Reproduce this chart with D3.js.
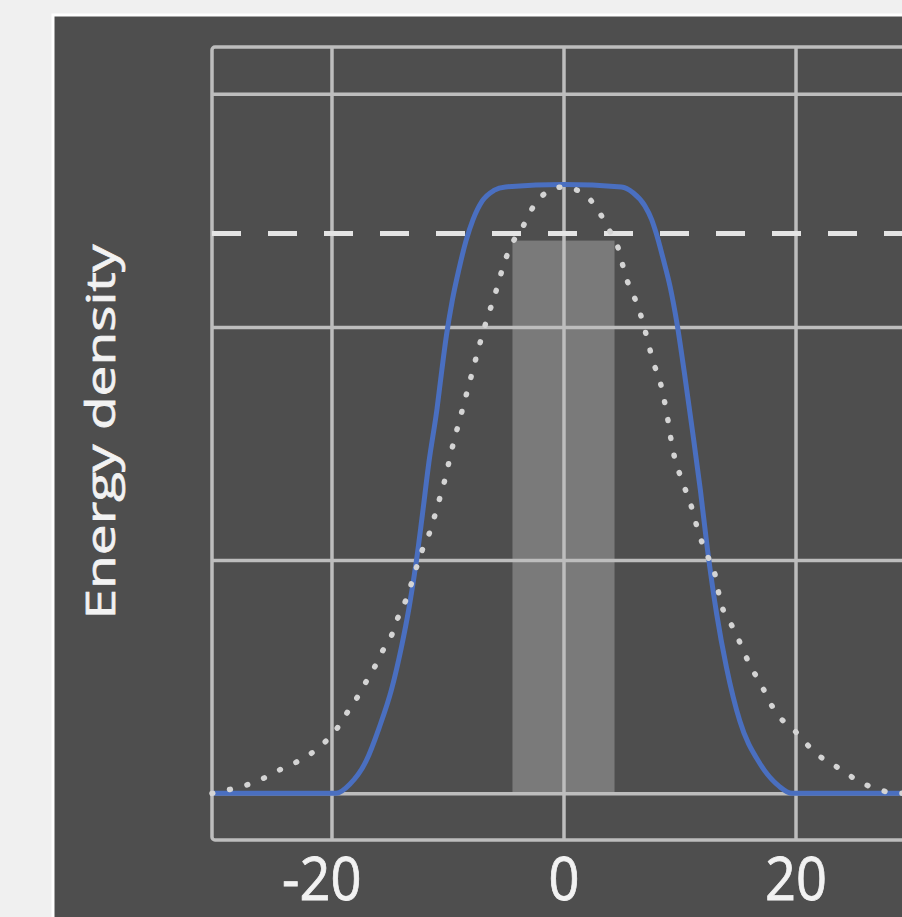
<!DOCTYPE html>
<html>
<head>
<meta charset="utf-8">
<script src="https://cdn.jsdelivr.net/npm/d3@7"></script>
<style>
    body { margin: 0; background: #f0f0f0; }
    svg { display: block; }
</style>
</head>
<body>
<div id="chart"></div>
<script>
// Chart values
const xTicks = [-20, 0, 20]
const yGrid = [0, 1, 2, 3]
const thresholdLevel = 2.4
const barStart = -4.4
const barEnd = 4.4
const barTop = 2.37

// Blue flat-top pulse
const pulseX = [-30.3, -19.6, -18.4, -17.0, -15.9, -14.8, -14.0, -13.3, -12.7, -12.2, -11.6, -10.9, -10.5, -10.1, -9.6, -9.0, -8.4, -7.8, -7.0, -6.0, -5.0, 0,
                5.0, 6.0, 7.0, 7.6, 8.0, 8.6, 9.2, 9.8, 10.4, 11.1, 11.8, 12.4, 13.2, 14.05, 15.2, 16.9, 18.6, 19.7, 30.3]
const pulseY = [0, 0, 0.04, 0.14, 0.28, 0.45, 0.62, 0.80, 0.99, 1.18, 1.42, 1.65, 1.81, 1.96, 2.11, 2.25, 2.37, 2.46, 2.54, 2.585, 2.60, 2.61,
                2.60, 2.575, 2.52, 2.46, 2.40, 2.29, 2.17, 2.01, 1.81, 1.56, 1.30, 1.05, 0.77, 0.54, 0.31, 0.13, 0.03, 0, 0]

// Dotted reference profile
const refX = [-30.3, -28.5, -26.5, -24.5, -22.8, -21.0, -19.5, -18.6, -17.8, -17.0, -16.3, -15.6, -14.8, -14.3, -13.5, -12.8, -12.2, -11.6, -11.1, -10.7, -10.3,
              -9.6, -8.8, -8.0, -7.2, -6.8, -5.9, -5.0, -4.4, -3.5, -2.9, -1.9, 0,
              2.0, 3.1, 4.0, 4.7, 5.4, 6.0, 6.6, 7.0, 7.8, 8.3, 8.9, 9.4, 10.3, 10.9, 11.7, 12.3, 13.0, 13.6, 14.3, 15.0, 15.6, 16.3, 17.1, 17.8, 18.4,
              19.7, 21.8, 24.0, 25.5, 27.0, 28.7, 30.3]
const refY = [0, 0.02, 0.05, 0.10, 0.14, 0.20, 0.28, 0.35, 0.41, 0.48, 0.54, 0.61, 0.68, 0.75, 0.84, 0.95, 1.04, 1.11, 1.19, 1.26, 1.33,
              1.48, 1.63, 1.78, 1.93, 2.0, 2.14, 2.29, 2.36, 2.43, 2.49, 2.56, 2.6,
              2.56, 2.49, 2.41, 2.34, 2.21, 2.14, 2.06, 1.99, 1.84, 1.77, 1.63, 1.48, 1.33, 1.25, 1.11, 1.03, 0.95, 0.81, 0.74, 0.67, 0.60, 0.53, 0.46, 0.39, 0.34,
              0.28, 0.17, 0.10, 0.05, 0.02, 0, 0]

const width = 902
const height = 917

// Plot frame in pixels (the right side runs off the page)
const frame = {left: 212, right: 915, top: 47, bottom: 840}

const svg = d3.select("#chart").append("svg")
    .attr("width", width)
    .attr("height", height)

// Dark panel with a thin white edge
svg.append("rect")
    .attr("x", 53).attr("y", 15)
    .attr("width", 900).attr("height", 950)
    .attr("fill", "#4e4e4e")
    .attr("stroke", "#ffffff")
    .attr("stroke-width", 3)

// Scales
const xScale = d3.scaleLinear().domain([-30.3, 30.3]).range([frame.left, frame.right])
const yScale = d3.scaleLinear().domain([-0.2, 3.2]).range([frame.bottom, frame.top])

// Grey band around the centre
svg.append("rect")
    .attr("x", xScale(barStart))
    .attr("y", yScale(barTop))
    .attr("width", xScale(barEnd) - xScale(barStart))
    .attr("height", yScale(0) - yScale(barTop))
    .attr("fill", "#7a7a7a")

// Vertical gridlines + tick labels
const xAxis = svg.append("g")
    .attr("transform", `translate(0,${frame.bottom})`)
    .call(d3.axisBottom(xScale)
        .tickValues(xTicks)
        .tickSize(-(frame.bottom - frame.top))
        .tickPadding(0)
        .tickFormat(d => d < 0 ? "-" + Math.abs(d) : d))
xAxis.select(".domain").remove()
xAxis.selectAll("line")
    .attr("stroke", "#bdbdbd")
    .attr("stroke-width", 3.5)
// labels sit at the very bottom edge, kept just inside the page
xAxis.selectAll("text")
    .attr("y", 57.5)
    .attr("dy", null)
    .attr("dx", d => d < 0 ? -11 : 0)
    .attr("transform", "scale(0.935,1.04)")
    .attr("fill", "#f2f2f2")
    .attr("stroke", "#f2f2f2")
    .attr("stroke-width", 0.8)
    .style("font-family", "'Open Sans', 'Noto Sans', sans-serif")
    .style("font-size", "58px")

// Horizontal gridlines, no labels
const yAxis = svg.append("g")
    .attr("transform", `translate(${frame.left},0)`)
    .call(d3.axisLeft(yScale)
        .tickValues(yGrid)
        .tickSize(-(frame.right - frame.left))
        .tickFormat(""))
yAxis.select(".domain").remove()
yAxis.selectAll("line")
    .attr("stroke", "#bdbdbd")
    .attr("stroke-width", 3.5)

// Plot frame
svg.append("rect")
    .attr("x", frame.left).attr("y", frame.top)
    .attr("width", frame.right - frame.left)
    .attr("height", frame.bottom - frame.top)
    .attr("rx", 3)
    .attr("fill", "none")
    .attr("stroke", "#bdbdbd")
    .attr("stroke-width", 3.5)

// Dashed threshold line
svg.append("line")
    .attr("x1", frame.left).attr("x2", frame.right)
    .attr("y1", yScale(thresholdLevel)).attr("y2", yScale(thresholdLevel))
    .attr("stroke", "#e4e4e4")
    .attr("stroke-width", 5)
    .attr("stroke-dasharray", "29,27")

// Curves
const line = d3.line()
    .x(d => xScale(d[0]))
    .y(d => yScale(d[1]))
    .curve(d3.curveMonotoneX)

svg.append("path")
    .datum(pulseX.map((x, i) => [x, pulseY[i]]))
    .attr("d", line)
    .attr("fill", "none")
    .attr("stroke", "#4a6fc0")
    .attr("stroke-width", 5)

svg.append("path")
    .datum(refX.map((x, i) => [x, refY[i]]))
    .attr("d", line)
    .attr("fill", "none")
    .attr("stroke", "#d4d4d4")
    .attr("stroke-width", 5.5)
    .attr("stroke-linecap", "round")
    .attr("stroke-dasharray", "0.8,17.2")

// Y axis title
svg.append("text")
    .attr("transform", "translate(115,432) rotate(-90)")
    .attr("text-anchor", "middle")
    .attr("textLength", 375)
    .attr("lengthAdjust", "spacingAndGlyphs")
    .attr("fill", "#f2f2f2")
    .attr("stroke", "#f2f2f2")
    .attr("stroke-width", 0.7)
    .style("font-family", "'Open Sans', 'Noto Sans', sans-serif")
    .style("font-size", "41px")
    .text("Energy density")
</script>
</body>
</html>
